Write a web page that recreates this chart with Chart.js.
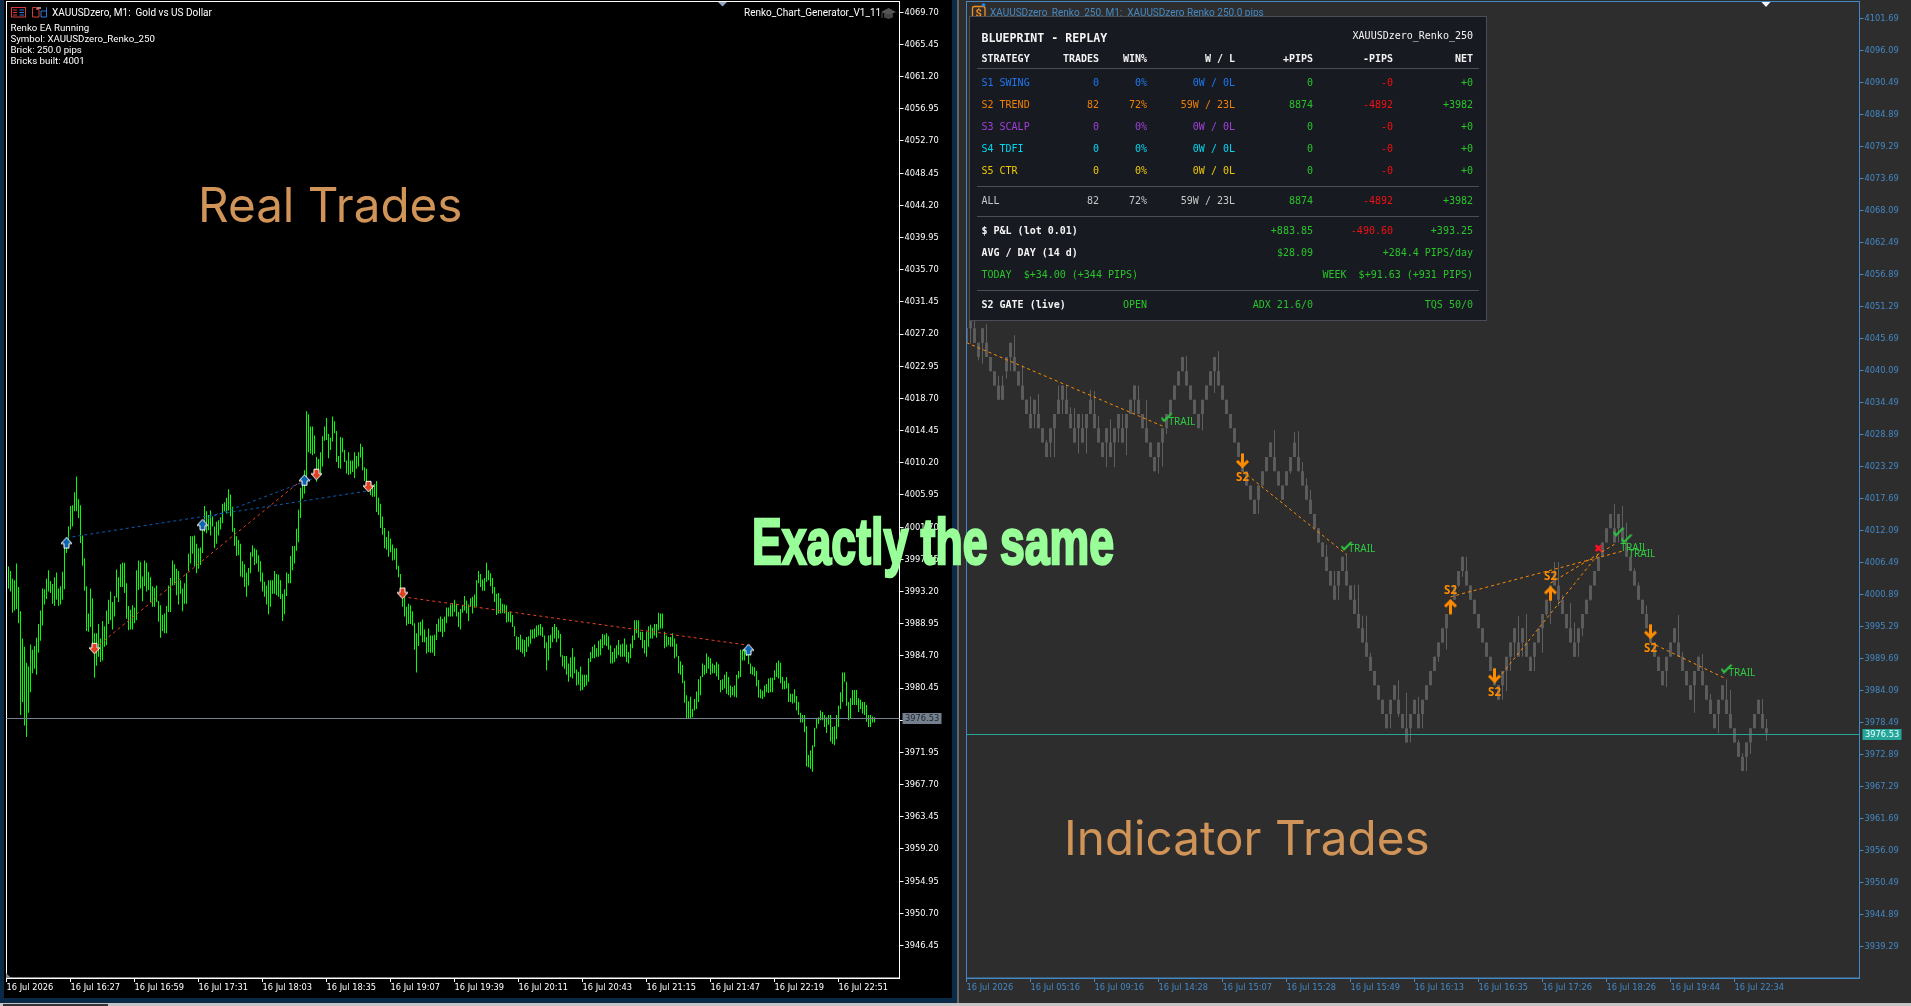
<!DOCTYPE html>
<html>
<head>
<meta charset="utf-8">
<title>Real Trades vs Indicator Trades</title>
<script src="https://cdn.jsdelivr.net/npm/chart.js@4"></script>
<style>
  html, body { margin: 0; padding: 0; }
  body { width: 1911px; height: 1006px; overflow: hidden; position: relative; background: #c4c4c4; }
  .box { position: absolute; }
  canvas { position: absolute; }
  svg { position: absolute; }
  .t { position: absolute; white-space: pre; line-height: 1; }
  .small { font: 10px Roboto, sans-serif; color: #fff; }
  .mono { font: 10px "DejaVu Sans Mono", monospace; }
  .big { font: 47.6px Inter, sans-serif; color: #d09358; }
</style>
</head>
<body>
<div class="box" style="left:0;top:0;width:957px;height:1003px;background:#0a2a47"></div>
<div class="box" style="left:4px;top:0;width:948px;height:998px;background:#000"></div>
<div class="box" style="left:957px;top:0;width:2px;height:1003px;background:#666"></div>
<div class="box" style="left:959px;top:0;width:952px;height:1003px;background:#2d2d2d"></div>
<div class="box" style="left:3px;top:1004px;width:105px;height:2px;background:#333"></div>
<canvas id="leftChart" width="952" height="999" style="left:0;top:0"></canvas>
<canvas id="rightChart" width="952" height="1003" style="left:959px;top:0"></canvas>
<!-- ikon kecil toolbar -->
<svg style="left:0;top:0" width="1911" height="30">
  <rect x="11.5" y="7.5" width="14" height="9.5" fill="none" stroke="#d83a3a"/>
  <path d="M13 10h4M13 12.5h4M13 15h4" stroke="#d83a3a"/><path d="M19.5 10h4.5M19.5 12.5h4.5M19.5 15h4.5" stroke="#2a78d8"/>
  <path d="M32.5 17V7.5h4v2h2.5V17z" fill="none" stroke="#d83a3a"/>
  <path d="M41 17V11h5.5V7.5M46.5 7.5V17H41" fill="none" stroke="#2a78d8"/><rect x="37" y="7" width="4" height="2" fill="#888"/>
  <path d="M881 12l7.5-4 7.5 4-7.5 3.5z" fill="#555"/><path d="M884 14v3.5l4.5 1.5 4.5-1.5V14" fill="#444"/><path d="M882 13v5" stroke="#555"/>
  <path d="M718 2h9l-4.5 4.5z" fill="#8fa8c0"/>
  <path d="M1761.5 2h9l-4.5 5z" fill="#f4f6ff"/>
  <rect x="972.5" y="6.5" width="12.5" height="12.5" rx="2" fill="none" stroke="#f09020" stroke-width="1.3"/>
  <text x="975.5" y="16.5" font-size="11" font-weight="bold" font-family="Roboto" fill="#f09020">$</text>
  <circle cx="983.5" cy="5" r="1.8" fill="#2a88e8"/>
</svg>
<svg style="left:6px;top:973px" width="6" height="6"><path d="M0 0L5 5H0z" fill="#888"/></svg>
<div id="overlay"></div>
<script>
// ==== left chart: real trades, M1 bars ====
const leftHighs = [
  3996.5,3995.9,3994.9,3994.7,3996.9,3993.8,3990.6,3987.0,3985.9,3983.8,3983.3,3986.2,3985.5,3986.0,3987.1,3988.9,3990.7,3993.6,3993.5,3994.9,
  3996.0,3994.6,3994.2,3995.1,3995.7,3993.6,3993.9,3995.8,3999.5,4000.4,4001.8,4004.5,4004.6,4006.3,4008.4,4005.4,4004.6,4000.6,3997.6,3993.9,
  3990.3,3993.6,3992.3,3987.7,3987.7,3988.9,3987.0,3989.3,3988.6,3990.7,3992.1,3993.2,3991.8,3992.6,3996.1,3995.1,3996.8,3997.0,3997.0,3994.3,
  3991.3,3990.8,3991.4,3991.1,3996.0,3997.3,3997.1,3995.2,3997.3,3997.0,3995.8,3995.1,3993.9,3993.7,3994.0,3991.9,3991.4,3990.1,3990.3,3991.3,
  3994.0,3995.0,3997.3,3996.8,3996.2,3995.9,3994.7,3993.6,3994.3,3995.6,3998.2,4000.5,4000.5,4000.6,3999.5,3998.9,3999.0,4002.4,4004.5,4003.8,
  4003.3,4003.9,4003.1,4001.8,4002.4,4002.6,4003.0,4004.8,4005.0,4005.6,4006.7,4006.0,4004.4,4001.6,4000.5,4000.0,3999.5,3997.2,3996.8,3995.7,
  3996.3,3998.4,3999.3,3998.9,3998.7,3998.0,3997.2,3995.7,3994.5,3994.0,3994.7,3994.7,3994.7,3995.9,3995.5,3995.4,3994.7,3992.9,3993.5,3995.7,
  3995.5,3997.9,3999.2,3999.2,4001.5,4004.0,4006.9,4007.5,4009.2,4017.0,4016.6,4015.0,4015.0,4013.8,4011.0,4010.7,4011.6,4013.7,4015.0,4016.1,
  4014.0,4013.5,4016.3,4015.7,4014.4,4011.1,4013.6,4013.5,4011.9,4010.5,4011.6,4010.5,4010.5,4011.6,4011.1,4011.6,4012.7,4012.3,4009.6,4009.4,
  4007.7,4007.2,4007.2,4007.4,4007.8,4005.6,4004.8,4003.1,4001.6,4000.4,4001.2,4000.2,3999.4,3998.9,3998.9,3996.6,3995.5,3993.4,3992.5,3991.2,
  3991.6,3991.4,3990.6,3989.0,3987.7,3989.1,3989.2,3989.5,3988.2,3987.2,3988.3,3987.4,3987.4,3987.5,3988.9,3989.6,3989.9,3989.6,3989.9,3991.1,
  3991.1,3991.5,3991.7,3992.1,3991.6,3990.5,3990.9,3991.4,3992.6,3992.0,3991.5,3992.3,3992.5,3992.8,3994.7,3995.9,
  3995.5,3994.8,3995.0,3997.0,3996.0,3995.6,3995.0,3993.8,3992.9,3993.0,3992.3,3991.6,3991.5,3991.4,3990.5,3990.5,3990.1,3988.6,3987.3,3987.2,
  3987.5,3986.9,3986.8,3987.2,3987.3,3988.2,3988.2,3988.3,3988.7,3988.8,3988.9,3988.5,3987.4,3986.5,3987.4,3987.5,3988.5,3988.9,3988.5,3988.1,
  3987.6,3984.8,3984.7,3984.7,3983.7,3984.5,3985.7,3984.6,3982.9,3982.6,3983.3,3982.2,3982.2,3982.2,3984.4,3985.2,3985.9,3986.2,3985.7,3986.7,
  3986.9,3987.6,3987.5,3987.7,3987.3,3986.1,3985.2,3985.7,3986.1,3986.8,3986.2,3986.3,3987.0,3986.2,3985.2,3986.3,3987.4,3989.4,3989.4,3989.4,
  3987.9,3987.9,3986.8,3987.9,3988.6,3988.8,3988.4,3988.9,3988.9,3990.4,3990.3,3990.3,3987.9,3987.4,3987.2,3987.2,3987.7,3987.0,3986.3,3984.7,
  3984.0,3983.5,3981.4,3979.5,3978.7,3979.3,3977.7,3979.0,3980.0,3981.6,3982.0,3983.7,3983.5,3985.0,3984.6,3984.4,3983.7,3983.5,3983.9,3983.6,
  3981.5,3981.6,3982.2,3982.6,3981.9,3980.8,3980.6,3980.8,3982.2,3982.7,3985.5,3985.5,3985.5,3985.8,3985.7,3983.7,3983.3,3983.2,3982.7,3981.5,
  3980.3,3980.1,3980.8,3981.0,3981.7,3981.8,3981.8,3982.8,3983.8,3984.1,3983.8,3981.9,3981.4,3981.9,3981.1,3979.7,3979.7,3980.3,3979.4,3978.6,
  3977.2,3976.9,3976.9,3975.4,3971.6,3972.2,3972.9,3975.2,3976.4,3976.6,3977.5,3977.3,3976.9,3976.6,3976.9,3976.9,3975.3,3975.4,3976.9,3978.1,
  3979.9,3982.5,3982.5,3981.3,3978.6,3979.1,3980.2,3980.2,3980.2,3979.1,3978.9,3978.6,3978.6,3978.2,3976.9,3976.9,3976.7,3976.6
];
const leftLows = [
  3993.6,3993.2,3990.4,3990.7,3990.9,3989.0,3976.9,3978.6,3975.5,3974.0,3977.2,3979.9,3982.4,3983.0,3982.2,3985.1,3986.7,3988.7,3991.5,3992.2,
  3993.2,3993.0,3991.6,3991.3,3992.1,3991.3,3991.5,3992.1,3993.5,3998.3,3998.9,4001.4,4001.8,4003.8,4003.8,4002.9,3999.6,3996.6,3993.3,3988.0,
  3987.9,3988.5,3986.3,3981.8,3983.4,3984.6,3983.9,3984.1,3985.9,3986.1,3988.9,3989.4,3988.2,3989.9,3992.4,3991.8,3993.8,3993.8,3993.0,3989.6,
  3988.1,3988.2,3988.2,3989.0,3989.4,3993.4,3993.6,3991.9,3993.9,3993.2,3993.4,3991.8,3991.2,3991.2,3991.8,3989.2,3987.1,3988.0,3987.7,3987.7,
  3990.5,3990.5,3994.0,3994.1,3992.7,3991.5,3992.9,3990.6,3991.6,3991.6,3995.9,3996.9,3998.2,3996.5,3995.6,3996.2,3996.7,3998.3,4001.1,4000.9,
  4001.3,4000.6,4001.8,3998.9,3999.5,4000.6,4001.4,4002.2,4003.8,4003.5,4003.9,4003.1,4001.1,3999.2,3997.9,3998.0,3995.2,3995.1,3993.8,3992.5,
  3994.0,3995.6,3997.8,3996.7,3996.9,3995.8,3994.5,3993.2,3992.5,3991.5,3990.2,3991.2,3992.9,3992.9,3992.7,3992.5,3992.2,3989.3,3990.2,3992.6,
  3994.3,3994.3,3996.0,3996.9,3998.6,3999.7,4002.9,4005.5,4006.1,4008.0,4011.6,4011.4,4011.2,4011.4,4007.7,4009.0,4008.6,4009.7,4013.1,4013.2,
  4010.8,4011.9,4013.0,4014.1,4010.3,4009.5,4009.4,4011.6,4010.3,4008.8,4008.6,4008.7,4009.0,4008.2,4009.4,4009.7,4010.9,4009.2,4007.8,4006.8,
  4006.6,4005.9,4005.7,4005.7,4003.7,4003.3,4001.6,4000.7,3998.9,3998.7,3997.8,3998.4,3997.3,3997.4,3996.1,3995.1,3992.5,3991.2,3989.9,3988.7,
  3988.9,3988.9,3988.7,3985.5,3982.5,3986.0,3987.4,3986.5,3986.5,3985.0,3985.2,3985.1,3985.1,3984.7,3986.8,3987.9,3987.9,3987.2,3987.9,3989.0,
  3989.9,3989.9,3989.9,3990.5,3989.9,3988.5,3988.2,3990.4,3990.7,3990.3,3989.3,3991.2,3990.3,3991.1,3991.2,3994.3,
  3993.8,3993.3,3993.3,3994.5,3994.7,3993.9,3992.9,3991.8,3990.1,3990.3,3990.3,3990.4,3990.3,3989.1,3989.2,3989.1,3988.5,3987.3,3985.5,3985.5,
  3985.2,3985.0,3984.6,3985.2,3985.9,3986.3,3987.0,3987.0,3987.2,3987.4,3987.4,3987.2,3985.7,3982.8,3984.1,3985.7,3986.5,3987.0,3986.5,3987.0,
  3984.6,3983.3,3983.0,3982.2,3981.3,3981.9,3981.7,3982.4,3980.8,3980.9,3980.1,3980.2,3980.6,3980.8,3981.3,3983.9,3984.4,3984.4,3984.6,3984.6,
  3984.8,3985.7,3986.1,3986.0,3985.5,3983.7,3983.7,3983.9,3984.4,3984.8,3984.6,3984.6,3984.6,3983.9,3983.7,3984.4,3985.7,3986.8,3987.7,3987.1,
  3986.8,3985.7,3985.0,3984.6,3985.9,3987.0,3987.0,3987.4,3987.1,3988.1,3988.3,3988.3,3985.7,3985.9,3986.1,3985.9,3985.9,3984.4,3984.6,3982.4,
  3982.2,3981.1,3978.5,3976.4,3976.4,3976.4,3976.6,3977.5,3977.7,3978.6,3979.5,3981.9,3982.2,3982.4,3983.0,3982.2,3982.4,3982.4,3982.0,3981.5,
  3979.9,3980.2,3980.4,3979.7,3979.5,3979.2,3979.5,3979.3,3979.2,3981.7,3981.9,3984.1,3984.1,3984.7,3983.6,3982.3,3982.2,3982.0,3980.7,3979.2,
  3979.1,3979.0,3979.3,3979.9,3979.8,3979.9,3979.9,3981.5,3981.9,3981.7,3981.1,3980.3,3980.3,3980.4,3978.6,3978.6,3978.4,3978.5,3977.5,3976.9,
  3975.9,3975.9,3974.6,3970.1,3970.0,3969.8,3969.4,3972.7,3975.1,3975.7,3976.2,3976.2,3975.3,3974.5,3975.6,3973.4,3973.1,3972.9,3973.7,3975.3,
  3977.7,3978.6,3981.3,3978.1,3976.2,3976.4,3978.2,3978.2,3978.2,3977.3,3977.7,3977.1,3976.9,3976.0,3975.3,3975.3,3975.9,3975.9
];
const leftPriceTicks = [4069.70,4065.45,4061.20,4056.95,4052.70,4048.45,4044.20,4039.95,4035.70,4031.45,4027.20,4022.95,4018.70,4014.45,4010.20,4005.95,4001.70,3997.45,3993.20,3988.95,3984.70,3980.45,3976.20,3971.95,3967.70,3963.45,3959.20,3954.95,3950.70,3946.45];
const leftTimeLabels = ['16 Jul 2026','16 Jul 16:27','16 Jul 16:59','16 Jul 17:31','16 Jul 18:03','16 Jul 18:35','16 Jul 19:07','16 Jul 19:39','16 Jul 20:11','16 Jul 20:43','16 Jul 21:15','16 Jul 21:47','16 Jul 22:19','16 Jul 22:51'];
const currentPrice = 3976.53;

// trades on the left chart: [barFrom, priceFrom, barTo, priceTo]
const leftBuyLines = [[30,4000.3,181,4006.5],[98,4002.6,155,4008.3]];
const leftSellLines = [[44,3985.7,148,4008.0],[198,3992.5,371,3986.1]];
const leftBuyBars = [30,98,149,371];
const leftBuyPrices = [3999.6,4002.0,4007.9,3985.5];
const leftSellBars = [44,155,181,198];
const leftSellPrices = [3985.7,4008.7,4007.1,3993.0];

// ==== right chart: indicator trades, renko bricks ====
const rightBodyLow = [
  4045,4047.5,4045,4042.5,4045,4042.5,4040,4037.5,4035,4035,
  4040,4042.5,4040,4037.5,4035,4032.5,4030,4032.5,4030,4027.5,
  4025,4027.5,4030,4032.5,4035,4032.5,4030,4027.5,4030,4027.5,
  4030,4032.5,4030,4027.5,4025,4027.5,4025,4027.5,4030,4027.5,
  4030,4032.5,4035,4032.5,4030,4027.5,4025,4022.5,4025,4027.5,
  4030,4032.5,4035,4037.5,4040,4037.5,4035,4032.5,4030,4032.5,
  4035,4037.5,4040,4037.5,4035,4032.5,4030,4027.5,4025,4022.5,
  4020,4017.5,4015,4017.5,4020,4022.5,4025,4022.5,4020,4017.5,
  4020,4022.5,4025,4022.5,4020,4017.5,4015,4012.5,4010,4007.5,
  4005,4002.5,4000,4002.5,4005,4002.5,4000,3997.5,3995,3992.5,
  3990,3987.5,3985,3982.5,3980,3977.5,3980,3982.5,3980,3977.5,
  3975,3977.5,3980,3977.5,3980,3982.5,3985,3987.5,3990,
  3992.5,3995,3997.5,4000,4002.5,4005,4002.5,4000,3997.5,3995,
  3992.5,3990,3987.5,3985,3982.5,3985,3987.5,3990,3992.5,3990,
  3992.5,3990,3987.5,3990,3992.5,3995,3997.5,4000,4002.5,4000,
  3997.5,3995,3992.5,3990,3992.5,3995,3997.5,4000,4002.5,4005,
  4007.5,4010,4012.5,4010,4012.5,4010,4007.5,4005,4002.5,4000,
  3997.5,3995,3992.5,3990,3987.5,3985,3987.5,3990,3992.5,3990,
  3987.5,3985,3982.5,3985,3987.5,3985,3982.5,3980,3977.5,3980,
  3982.5,3980,3977.5,3975,3972.5,3970,3972.5,3975,3977.5,3980,
  3977.5,3976.6
];
const rightBodyHigh = [
  4047.5,4050,4047.5,4045,4047.5,4045,4042.5,4040,4037.5,4037.5,
  4042.5,4045,4042.5,4040,4037.5,4035,4032.5,4035,4032.5,4030,
  4027.5,4030,4032.5,4035,4037.5,4035,4032.5,4030,4032.5,4030,
  4032.5,4035,4032.5,4030,4027.5,4030,4027.5,4030,4032.5,4030,
  4032.5,4035,4037.5,4035,4032.5,4030,4027.5,4025,4027.5,4030,
  4032.5,4035,4037.5,4040,4042.5,4040,4037.5,4035,4032.5,4035,
  4037.5,4040,4042.5,4040,4037.5,4035,4032.5,4030,4027.5,4025,
  4022.5,4020,4017.5,4020,4022.5,4025,4027.5,4025,4022.5,4020,
  4022.5,4025,4027.5,4025,4022.5,4020,4017.5,4015,4012.5,4010,
  4007.5,4005,4002.5,4005,4007.5,4005,4002.5,4000,3997.5,3995,
  3992.5,3990,3987.5,3985,3982.5,3980,3982.5,3985,3982.5,3980,
  3977.5,3980,3982.5,3980,3982.5,3985,3987.5,3990,3992.5,
  3995,3997.5,4000,4002.5,4005,4007.5,4005,4002.5,4000,3997.5,
  3995,3992.5,3990,3987.5,3985,3987.5,3990,3992.5,3995,3992.5,
  3995,3992.5,3990,3992.5,3995,3997.5,4000,4002.5,4005,4002.5,
  4000,3997.5,3995,3992.5,3995,3997.5,4000,4002.5,4005,4007.5,
  4010,4012.5,4015,4012.5,4015,4012.5,4010,4007.5,4005,4002.5,
  4000,3997.5,3995,3992.5,3990,3987.5,3990,3992.5,3995,3992.5,
  3990,3987.5,3985,3987.5,3990,3987.5,3985,3982.5,3980,3982.5,
  3985,3982.5,3980,3977.5,3975,3972.5,3975,3977.5,3980,3982.5,
  3980,3977.5
];
const rightWickHigh = [
  4047.5,4050,4049,4045,4047.5,4048.2,4042.5,4040,4039.2,4039.2,
  4042.5,4045,4046.3,4040,4041,4035,4035.6,4035,4036,4030,
  4028,4030,4032.5,4037.5,4037.5,4037.5,4033.7,4033.5,4032.5,4032.5,
  4032.5,4036.7,4036.5,4032.2,4027.5,4030,4031.6,4030,4032.5,4032.5,
  4032.5,4035,4037.5,4037.5,4032.5,4035,4027.5,4025,4027.5,4030,
  4032.5,4035,4037.5,4040,4042.5,4042.6,4037.5,4035,4032.5,4035,
  4037.5,4040,4042.5,4043.5,4037.5,4035,4032.5,4030,4027.5,4025,
  4022.5,4020,4017.5,4020,4022.5,4025,4027.5,4029.7,4022.5,4020,
  4022.5,4025,4029.4,4029.5,4024.1,4021.2,4019.2,4015,4012.5,4010,
  4009.6,4005,4005,4005,4007.5,4008.1,4002.5,4002.6,4002.6,3997.2,
  3997.2,3990.7,3987.5,3985,3982.5,3980,3982.5,3985,3985.9,3980,
  3983.7,3980,3982.5,3983,3982.5,3985,3987.5,3990,3992.5,
  3995,3997.5,4000,4002.5,4005,4007.5,4007.5,4002.5,4000,3997.5,
  3995,3992.5,3990,3987.5,3985,3987.5,3990,3992.5,3995,3997.1,
  3995,3997.5,3990,3992.5,3995,3997.5,4000,4002.5,4006.6,4006.6,
  4000.8,3997.5,3999.4,3996,3995,3997.5,4000,4002.5,4005,4007.5,
  4010,4012.5,4015,4016.7,4015,4016.4,4013.5,4007.5,4005.5,4003,
  4000,3999,3995,3992.5,3990,3987.5,3990,3992.5,3995,3997.3,
  3990.9,3987.5,3985,3987.5,3990,3990.5,3985,3983.5,3980,3982.5,
  3985,3986,3984.2,3977.5,3975.5,3973.1,3975,3977.5,3980,3982.5,
  3982.6,3979.1
];
const rightWickLow = [
  4045,4044.8,4045,4041.9,4041.3,4042.5,4040,4037.5,4035,4035,
  4038.7,4040,4040,4037.5,4035,4032.5,4030,4030,4030,4027.5,
  4025,4025,4025,4032.5,4032.5,4032.5,4030,4027.5,4025.6,4027.5,
  4025.6,4032.5,4030,4027.5,4025,4023.2,4025,4023.2,4027.5,4027.5,
  4025.3,4032.5,4032.5,4032.5,4030,4027.5,4025,4022.5,4022.1,4023.3,
  4029,4032.5,4035,4037.5,4040,4037.5,4035,4032.5,4030,4029.6,
  4035,4037.5,4036.2,4037.5,4035,4032.5,4030,4027.5,4025,4022.5,
  4020,4017.5,4015,4015,4020,4022.5,4025,4022.5,4020,4017.5,
  4020,4022.1,4025,4022.5,4020,4017.5,4015,4012.5,4010,4007.5,
  4005,4002.5,4000,4000,4005,4002.5,4000,3997.5,3995,3992.5,
  3990,3987.5,3985,3982.5,3980,3977.5,3977.5,3982.5,3979.5,3977.5,
  3975,3975,3980,3977.5,3977.5,3982.5,3985,3987.5,3989.1,
  3992.5,3991.3,3997.5,4000,4002.2,4004,4002.5,4000,3997.5,3995,
  3992.5,3990,3987.5,3985,3982.5,3982.5,3984,3987.5,3990,3990,
  3990,3990,3987.5,3987.5,3992.5,3990.7,3997.1,3995.7,4002.5,3998.9,
  3997.5,3995,3992.5,3990,3990,3993.6,3997.5,3999.8,4002.5,4005,
  4007.5,4010,4012.5,4010,4010,4010,4007.5,4005,4002.5,4000,
  3997.5,3995,3992.5,3990,3987.5,3985,3984.7,3990,3992.5,3990,
  3987.5,3985,3982.5,3980.2,3987.5,3985,3982.5,3980,3977.5,3976.6,
  3982.5,3980,3977.5,3975,3972.5,3970,3970,3973,3977.5,3980,
  3977.5,3975.3
];
const rightPriceTicks = [4101.69,4096.09,4090.49,4084.89,4079.29,4073.69,4068.09,4062.49,4056.89,4051.29,4045.69,4040.09,4034.49,4028.89,4023.29,4017.69,4012.09,4006.49,4000.89,3995.29,3989.69,3984.09,3978.49,3972.89,3967.29,3961.69,3956.09,3950.49,3944.89,3939.29];
const rightTimeLabels = ['16 Jul 2026','16 Jul 05:16','16 Jul 09:16','16 Jul 14:28','16 Jul 15:07','16 Jul 15:28','16 Jul 15:49','16 Jul 16:13','16 Jul 16:35','16 Jul 17:26','16 Jul 18:26','16 Jul 19:44','16 Jul 22:34'];

const rightTradeLines = [[0,4045,49,4030.4],[69,4022.5,95,4007.9],[121,4000.5,164,4008.5],[146,4002.9,162,4009.7],[132,3985.4,158,4008.0],[171,3992.5,190,3986.1]];
const rightUpBars = [121,146];
const rightUpPrices = [3998.8,4001.1];
const rightDownBars = [69,132,171];
const rightDownPrices = [4024.3,3986.7,3994.4];
const rightS2Bars = [69,121,132,146,171];
const rightS2Prices = [4021.3,4001.5,3983.8,4004.0,3991.4];
const rightCheckBars = [50,95,163,165,190];
const rightCheckPrices = [4031.9,4009.4,4011.9,4010.7,3987.9];
const rightTrailBars = [50,95,163,165,190];
const rightTrailPrices = [4031.1,4008.8,4009.1,4007.9,3987.1];
const rightLossBars = [158];
const rightLossPrices = [4009.0];

// ==== panel text ====
const panelStrategies = ['S1 SWING','S2 TREND','S3 SCALP','S4 TDFI','S5 CTR'];
const panelColors = ['#1e78f0','#f08000','#a040d8','#00d8f0','#f0c800'];
const panelTrades = ['0','82','0','0','0'];
const panelWin = ['0%','72%','0%','0%','0%'];
const panelWL = ['0W / 0L','59W / 23L','0W / 0L','0W / 0L','0W / 0L'];
const panelPlus = ['0','8874','0','0','0'];
const panelMinus = ['-0','-4892','-0','-0','-0'];
const panelNet = ['+0','+3982','+0','+0','+0'];

const tickFont = {family: '"DejaVu Sans Condensed", Roboto', size: 9.2};

// kepala panah dengan outline, dipakai sebagai pointStyle
function arrowIcon(up, fill, outline) {
  const c = document.createElement('canvas');
  c.width = 13; c.height = 13;
  const g = c.getContext('2d');
  g.translate(6.5, 6.5);
  if (!up) g.scale(1, -1);
  g.beginPath();
  g.moveTo(0, -5.5); g.lineTo(5.5, 0.5); g.lineTo(2.5, 0.5); g.lineTo(2.5, 5);
  g.lineTo(-2.5, 5); g.lineTo(-2.5, 0.5); g.lineTo(-5.5, 0.5); g.closePath();
  g.fillStyle = fill; g.fill();
  if (outline) { g.strokeStyle = outline; g.lineWidth = 1; g.stroke(); }
  return c;
}
function thinArrow(up, color) {
  const c = document.createElement('canvas');
  c.width = 15; c.height = 16;
  const g = c.getContext('2d');
  g.translate(7.5, 8);
  if (!up) g.scale(1, -1);
  g.strokeStyle = color; g.lineWidth = 3;
  g.beginPath(); g.moveTo(-5.5, 0); g.lineTo(0, -5.5); g.lineTo(5.5, 0); g.moveTo(0, -5); g.lineTo(0, 7.5); g.stroke();
  return c;
}
function checkIcon(color) {
  const c = document.createElement('canvas');
  c.width = 12; c.height = 10;
  const g = c.getContext('2d');
  g.strokeStyle = color; g.lineWidth = 1.8;
  g.beginPath(); g.moveTo(1, 5); g.lineTo(3.5, 8.5); g.lineTo(11, 1); g.stroke();
  return c;
}

const tradeLine = (t, color) => ({
  type: 'line', order: 2,
  data: [{x: t[0], y: t[1]}, {x: t[2], y: t[3]}],
  borderColor: color, borderWidth: 1, borderDash: [3, 3], pointRadius: 0
});
const markers = (bars, prices, style, extra) => Object.assign({
  type: 'line', order: 1, showLine: false,
  data: bars.map((b, i) => ({x: b, y: prices[i]})),
  pointStyle: style, pointRadius: 5
}, extra);

// bingkai, garis harga sekarang, dan label
const framePlugin = {
  id: 'frame',
  afterDraw(chart, args, o) {
    const {ctx, chartArea: a, scales: {y, x}} = chart;
    ctx.save();
    ctx.strokeStyle = o.color; ctx.lineWidth = 1;
    ctx.strokeRect(a.left, a.top, a.right - a.left, a.bottom - a.top);
    const py = Math.round(y.getPixelForValue(currentPrice)) + 0.5;
    ctx.strokeStyle = o.lineColor;
    ctx.beginPath(); ctx.moveTo(a.left, py); ctx.lineTo(a.right, py); ctx.stroke();
    ctx.fillStyle = o.lineColor;
    ctx.fillRect(a.right + 3, py - 5.5, 39, 11);
    ctx.fillStyle = o.priceText;
    ctx.font = '9.2px "DejaVu Sans Condensed", Roboto';
    ctx.textBaseline = 'middle';
    ctx.fillText(currentPrice.toFixed(2), a.right + 5.5, py + 0.5);
    (o.labels || []).forEach(l => {
      ctx.fillStyle = l.color; ctx.font = l.font;
      ctx.textAlign = l.align;
      l.bars.forEach((b, i) => ctx.fillText(l.text, x.getPixelForValue(b) + (l.dx || 0), y.getPixelForValue(l.prices[i])));
    });
    ctx.restore();
  }
};

function axes(o) {
  return {
    x: {
      type: 'linear', offset: false, min: 0, max: o.xMax,
      afterBuildTicks: s => { s.ticks = o.times.map((t, i) => ({value: i * o.every})); },
      afterFit: s => { s.height = o.xHeight; s.paddingLeft = 0; s.paddingRight = 0; },
      grid: {drawOnChartArea: false, offset: false, tickLength: 4, tickColor: o.color, drawTicks: true},
      border: {color: o.color},
      ticks: {
        autoSkip: false, maxRotation: 0, align: 'start', padding: 0, color: o.color,
        font: tickFont,
        callback: v => o.times[v / o.every]
      }
    },
    y: {
      type: 'linear', position: 'right', min: o.yMin, max: o.yMax,
      afterBuildTicks: s => { s.ticks = o.prices.map(p => ({value: p})); },
      afterFit: s => { s.width = o.yWidth; s.paddingTop = 0; s.paddingBottom = 0; },
      grid: {drawOnChartArea: false, tickLength: 4, tickColor: o.color},
      border: {color: o.color},
      ticks: {
        autoSkip: false, padding: 1, color: o.color,
        font: tickFont,
        callback: v => v.toFixed(2)
      }
    }
  };
}

Chart.defaults.animation = false;

new Chart(document.getElementById('leftChart'), {
  type: 'bar',
  plugins: [framePlugin],
  data: {
    datasets: [
      {
        order: 5, grouped: false, maxBarThickness: 1, inflateAmount: 0, backgroundColor: '#00ff00',
        data: leftHighs.map((h, i) => ({x: i + 1, y: [leftLows[i], h]}))
      },
      ...leftBuyLines.map(t => tradeLine(t, '#0a5cb0')),
      ...leftSellLines.map(t => tradeLine(t, '#e84020')),
      markers(leftBuyBars, leftBuyPrices, arrowIcon(true, '#0a64b0', '#ffffff')),
      markers(leftSellBars, leftSellPrices, arrowIcon(false, '#e04020', '#ffffff'))
    ]
  },
  options: {
    responsive: false, devicePixelRatio: 1,
    layout: {autoPadding: false, padding: {left: 6.5, top: 1.5, right: 0, bottom: 0}},
    plugins: {
      legend: {display: false}, tooltip: {enabled: false},
      frame: {color: '#ffffff', lineColor: '#75808e', priceText: '#20262e'}
    },
    scales: axes({
      xMax: 446.5, xHeight: 21, yWidth: 52.5, yMin: 3942.16, yMax: 4071.12,
      color: '#ffffff', times: leftTimeLabels, every: 32, prices: leftPriceTicks
    })
  }
});

new Chart(document.getElementById('rightChart'), {
  type: 'bar',
  plugins: [framePlugin],
  data: {
    datasets: [
      {
        order: 5, grouped: false, maxBarThickness: 3, inflateAmount: 0, backgroundColor: '#5e5e5e',
        data: rightBodyLow.map((l, i) => ({x: i, y: [l, rightBodyHigh[i]]}))
      },
      {
        order: 6, grouped: false, maxBarThickness: 1, inflateAmount: 0, backgroundColor: '#5e5e5e',
        data: rightWickLow.map((l, i) => ({x: i, y: [l, rightWickHigh[i]]}))
      },
      ...rightTradeLines.map(t => tradeLine(t, '#ff8c00')),
      markers(rightUpBars, rightUpPrices, thinArrow(true, '#ff8c00')),
      markers(rightDownBars, rightDownPrices, thinArrow(false, '#ff8c00')),
      markers(rightCheckBars, rightCheckPrices, checkIcon('#2ecc40')),
      markers(rightLossBars, rightLossPrices, 'crossRot', {borderColor: '#ff1020', borderWidth: 2.5, pointRadius: 4})
    ]
  },
  options: {
    responsive: false, devicePixelRatio: 1,
    layout: {autoPadding: false, padding: {left: 7.5, top: 1.5, right: 0, bottom: 0}},
    plugins: {
      legend: {display: false}, tooltip: {enabled: false},
      frame: {
        color: '#4488c4', lineColor: '#26a69a', priceText: '#eafffb',
        labels: [
          {text: 'S2', bars: rightS2Bars, prices: rightS2Prices, color: '#ff8c00', font: 'bold 11.5px "Noto Sans", sans-serif', align: 'center'},
          {text: 'TRAIL', bars: rightTrailBars, prices: rightTrailPrices, color: '#2ecc40', font: '10px "Noto Sans", sans-serif', align: 'left', dx: 2}
        ]
      }
    },
    scales: axes({
      xMax: 223.25, xHeight: 25, yWidth: 51.5, yMin: 3933.77, yMax: 4104.72,
      color: '#4488c4', times: rightTimeLabels, every: 16, prices: rightPriceTicks
    })
  }
});

// ==== teks dan panel di atas chart ====
const overlay = document.getElementById('overlay');
function put(x, y, text, cls, color, align, extra) {
  const s = document.createElement('span');
  s.className = 't ' + cls;
  s.textContent = text;
  s.style.top = (y - 5.5) + 'px';
  if (align === 'right') s.style.right = (1911 - x) + 'px'; else s.style.left = x + 'px';
  if (color) s.style.color = color;
  if (extra) Object.assign(s.style, extra);
  overlay.appendChild(s);
  return s;
}
function hline(x, y, w, color) {
  const d = document.createElement('div');
  d.className = 'box';
  Object.assign(d.style, {left: x + 'px', top: y + 'px', width: w + 'px', height: '1px', background: color});
  overlay.appendChild(d);
}

// header kiri
put(52, 12, 'XAUUSDzero, M1:  Gold vs US Dollar', 'small');
['Renko EA Running', 'Symbol: XAUUSDzero_Renko_250', 'Brick: 250.0 pips', 'Bricks built: 4001']
  .forEach((t, i) => put(10.5, 27.5 + i * 11, t, 'small', null, 'left', {fontSize: '9.7px'}));
put(744, 12, 'Renko_Chart_Generator_V1_11', 'small');

// header kanan
put(990, 12, 'XAUUSDzero_Renko_250, M1:  XAUUSDzero Renko 250.0 pips', 'small', '#4488c4');

// panel
const panel = document.createElement('div');
panel.className = 'box';
Object.assign(panel.style, {left: '969px', top: '16px', width: '516px', height: '303px', background: '#181a22', border: '1px solid #4a4d55'});
overlay.appendChild(panel);

const white = '#f4f4f4', green = '#28c428', red = '#f01010', gray = '#c8c8c8';
const colX = {left: 981.5, trades: 1099, win: 1147, wl: 1235, plus: 1313, minus: 1393, net: 1473};
put(colX.left, 36, 'BLUEPRINT - REPLAY', 'mono', white, 'left', {font: 'bold 11.6px "DejaVu Sans Mono", monospace'});
put(colX.net, 35, 'XAUUSDzero_Renko_250', 'mono', white, 'right');
const bold = {fontWeight: 'bold'};
put(colX.left, 58.5, 'STRATEGY', 'mono', white, 'left', bold);
put(colX.trades, 58.5, 'TRADES', 'mono', white, 'right', bold);
put(colX.win, 58.5, 'WIN%', 'mono', white, 'right', bold);
put(colX.wl, 58.5, 'W / L', 'mono', white, 'right', bold);
put(colX.plus, 58.5, '+PIPS', 'mono', white, 'right', bold);
put(colX.minus, 58.5, '-PIPS', 'mono', white, 'right', bold);
put(colX.net, 58.5, 'NET', 'mono', white, 'right', bold);
hline(977, 68, 502, '#4a4d55');
panelStrategies.forEach((name, i) => {
  const y = 82.5 + i * 22, c = panelColors[i];
  put(colX.left, y, name, 'mono', c);
  put(colX.trades, y, panelTrades[i], 'mono', c, 'right');
  put(colX.win, y, panelWin[i], 'mono', c, 'right');
  put(colX.wl, y, panelWL[i], 'mono', c, 'right');
  put(colX.plus, y, panelPlus[i], 'mono', green, 'right');
  put(colX.minus, y, panelMinus[i], 'mono', red, 'right');
  put(colX.net, y, panelNet[i], 'mono', green, 'right');
});
hline(977, 186, 502, '#4a4d55');
put(colX.left, 200.5, 'ALL', 'mono', gray);
put(colX.trades, 200.5, '82', 'mono', gray, 'right');
put(colX.win, 200.5, '72%', 'mono', gray, 'right');
put(colX.wl, 200.5, '59W / 23L', 'mono', gray, 'right');
put(colX.plus, 200.5, '8874', 'mono', green, 'right');
put(colX.minus, 200.5, '-4892', 'mono', red, 'right');
put(colX.net, 200.5, '+3982', 'mono', green, 'right');
hline(977, 216, 502, '#4a4d55');
put(colX.left, 230.5, '$ P&L (lot 0.01)', 'mono', white, 'left', bold);
put(colX.plus, 230.5, '+883.85', 'mono', green, 'right');
put(colX.minus, 230.5, '-490.60', 'mono', red, 'right');
put(colX.net, 230.5, '+393.25', 'mono', green, 'right');
put(colX.left, 252.5, 'AVG / DAY (14 d)', 'mono', white, 'left', bold);
put(colX.plus, 252.5, '$28.09', 'mono', green, 'right');
put(colX.net, 252.5, '+284.4 PIPS/day', 'mono', green, 'right');
put(colX.left, 274.5, 'TODAY  $+34.00 (+344 PIPS)', 'mono', green);
put(colX.net, 274.5, 'WEEK  $+91.63 (+931 PIPS)', 'mono', green, 'right');
hline(977, 290, 502, '#4a4d55');
put(colX.left, 304.5, 'S2 GATE (live)', 'mono', white, 'left', bold);
put(colX.win, 304.5, 'OPEN', 'mono', green, 'right');
put(colX.plus, 304.5, 'ADX 21.6/0', 'mono', green, 'right');
put(colX.net, 304.5, 'TQS 50/0', 'mono', green, 'right');

// judul besar
const realT = put(198, 0, 'Real Trades', 'big');
realT.style.top = '176px';
const indT = put(1064, 0, 'Indicator Trades', 'big');
indT.style.top = '809px';
const same = put(752, 0, 'Exactly the same', 'big', '#99ff99', 'left', {
  font: 'bold 64px "Liberation Sans", sans-serif',
  webkitTextStroke: '2.5px #99ff99', transformOrigin: 'left top'
});
same.style.top = '505px';
same.style.transform = 'scaleX(' + (362 / same.getBoundingClientRect().width) + ')';
</script>
</body>
</html>
